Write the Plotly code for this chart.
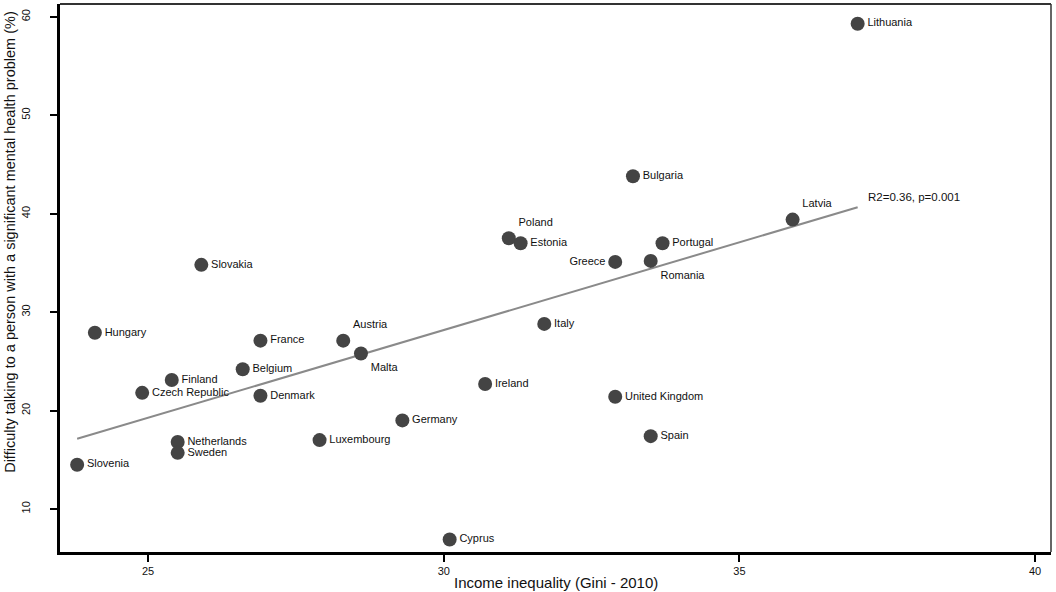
import numpy as np
import plotly.graph_objects as go

# Gini 2010 vs difficulty talking to someone with a mental health problem
countries = ["Lithuania", "Bulgaria", "Latvia", "Poland", "Estonia", "Portugal",
             "Greece", "Romania", "Slovakia", "Italy", "Hungary", "France",
             "Austria", "Malta", "Belgium", "Finland", "Czech Republic", "Denmark",
             "Ireland", "United Kingdom", "Germany", "Luxembourg", "Netherlands",
             "Sweden", "Spain", "Slovenia", "Cyprus"]
gini = [37.0, 33.2, 35.9, 31.1, 31.3, 33.7,
        32.9, 33.5, 25.9, 31.7, 24.1, 26.9,
        28.3, 28.6, 26.6, 25.4, 24.9, 26.9,
        30.7, 32.9, 29.3, 27.9, 25.5,
        25.5, 33.5, 23.8, 30.1]
difficulty = [59.3, 43.8, 39.4, 37.5, 37.0, 37.0,
              35.1, 35.2, 34.8, 28.8, 27.9, 27.1,
              27.1, 25.8, 24.2, 23.1, 21.8, 21.5,
              22.7, 21.4, 19.0, 17.0, 16.8,
              15.7, 17.4, 14.5, 6.9]
x_ticks = [25, 30, 35, 40]
y_ticks = [10, 20, 30, 40, 50, 60]
fit_label = "R2=0.36, p=0.001"

# label placement (anything not listed goes to the right of the dot)
label_pos = {"Poland": "top right", "Austria": "top right", "Malta": "bottom right",
             "Greece": "middle left", "Romania": "bottom right", "Latvia": "top right"}
positions = [label_pos.get(c, "middle right") for c in countries]

slope, intercept = np.polyfit(gini, difficulty, 1)
fit_x = np.array([min(gini), max(gini)])
fit_y = slope * fit_x + intercept

font_name = "Liberation Sans, Arial"

fig = go.Figure()
fig.add_trace(go.Scatter(
    x=fit_x, y=fit_y, mode="lines",
    line=dict(color="#8a8a8a", width=2), hoverinfo="skip"))
fig.add_trace(go.Scatter(
    x=gini, y=difficulty, mode="markers+text", text=countries,
    textposition=positions,
    textfont=dict(family=font_name, size=11, color="#111111"),
    marker=dict(size=14, color="#444444")))

fig.add_annotation(x=fit_x[1], y=fit_y[1], text=fit_label, showarrow=False,
                   xanchor="left", yanchor="bottom", xshift=8, yshift=2,
                   font=dict(family=font_name, size=11.5, color="#111111"))

# axis titles placed by hand, like the original
fig.add_annotation(xref="paper", yref="paper", x=0.5, y=0, yshift=-30,
                   xanchor="center", yanchor="middle", showarrow=False,
                   text="Income inequality (Gini - 2010)",
                   font=dict(family=font_name, size=15, color="#111111"))
fig.add_annotation(xref="paper", yref="paper", x=0, xshift=-50, y=0.566,
                   xanchor="center", yanchor="middle", showarrow=False, textangle=-90,
                   text="Difficulty talking to a person with a significant mental health problem (%)",
                   font=dict(family=font_name, size=14.5, color="#111111"))

# thin top/right frame
fig.add_shape(type="line", xref="paper", yref="paper", x0=0, x1=1, y0=1, y1=1,
              line=dict(color="#333333", width=2))
fig.add_shape(type="line", xref="paper", yref="paper", x0=1, x1=1, y0=0, y1=1,
              line=dict(color="#333333", width=1.5))

fig.update_layout(
    width=1056, height=592,
    margin=dict(l=60, r=5, t=4, b=40, autoexpand=False),
    plot_bgcolor="white", paper_bgcolor="white",
    showlegend=False,
    font=dict(family=font_name, color="#111111"),
)
fig.update_xaxes(
    range=[23.51, 40.27], tickvals=x_ticks, showgrid=False, zeroline=False,
    showline=True, linecolor="black", linewidth=3,
    ticks="outside", ticklen=7, tickwidth=2, tickcolor="black",
    tickfont=dict(size=11))
fig.update_yaxes(
    range=[5.63, 61.3], tickvals=y_ticks, showgrid=False, zeroline=False,
    showline=True, linecolor="black", linewidth=3,
    ticks="outside", ticklen=7, tickwidth=2, tickcolor="black",
    tickangle=-90, tickfont=dict(size=11), ticklabelstandoff=16)

fig.write_html("out.html", config={"displayModeBar": False},
               post_script="document.body.style.margin='0';")
